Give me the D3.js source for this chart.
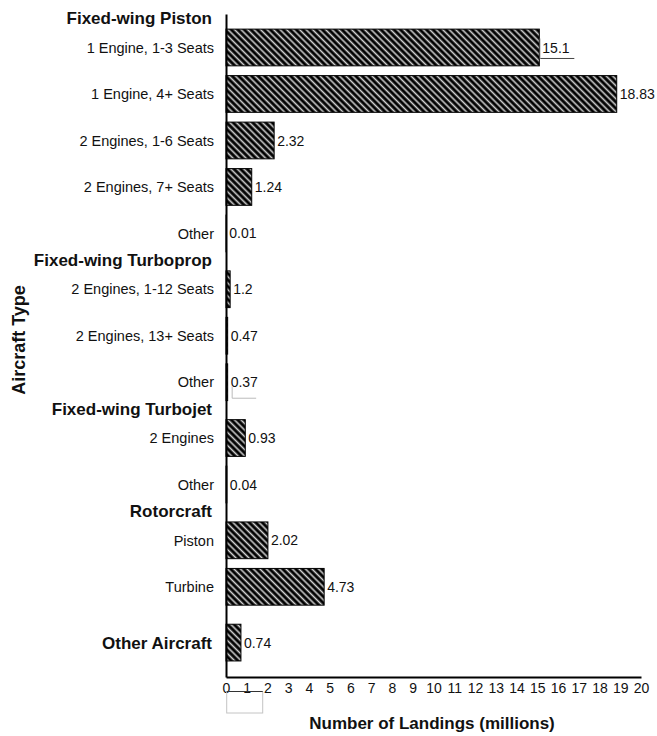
<!DOCTYPE html>
<html><head><meta charset="utf-8">
<script src="https://cdn.jsdelivr.net/npm/d3@7"></script>
<style>body{margin:0;background:#fff}svg{display:block}</style></head>
<body>
<script>
// ---- data ----
const categories = ["1 Engine, 1-3 Seats","1 Engine, 4+ Seats","2 Engines, 1-6 Seats","2 Engines, 7+ Seats","Other",
  "2 Engines, 1-12 Seats","2 Engines, 13+ Seats","Other",
  "2 Engines","Other",
  "Piston","Turbine",
  "Other Aircraft"];
const groupOf = ["Fixed-wing Piston","Fixed-wing Piston","Fixed-wing Piston","Fixed-wing Piston","Fixed-wing Piston",
  "Fixed-wing Turboprop","Fixed-wing Turboprop","Fixed-wing Turboprop",
  "Fixed-wing Turbojet","Fixed-wing Turbojet",
  "Rotorcraft","Rotorcraft",
  "Other Aircraft"];
const valueLabels = ["15.1","18.83","2.32","1.24","0.01","1.2","0.47","0.37","0.93","0.04","2.02","4.73","0.74"];
const barLengths = [15.1,18.83,2.32,1.24,0.01,0.2,0.08,0.08,0.93,0.04,2.02,4.73,0.72];
const xTicks = [0,1,2,3,4,5,6,7,8,9,10,11,12,13,14,15,16,17,18,19,20];
const xTitle = "Number of Landings (millions)";
const yTitle = "Aircraft Type";

// ---- layout ----
const W = 657, H = 736;
const svg = d3.select("body").append("svg").attr("width", W).attr("height", H);
const font = "'Liberation Sans', Arial, sans-serif";

const groups = Array.from(new Set(groupOf));
const gap = 0.2;
const slots = categories.map((c, i) => i + gap * groups.indexOf(groupOf[i]));

const x = d3.scaleLinear().domain([0, 20]).range([226, 641]);
const y = d3.scaleLinear().domain([-0.72, d3.max(slots) + 0.74]).range([14, 677]);
const unit = y(1) - y(0);
const barH = unit * 0.79;

// pattern
const defs = svg.append("defs");
const pat = defs.append("pattern").attr("id", "stripes").attr("patternUnits", "userSpaceOnUse")
  .attr("width", 4.6).attr("height", 10).attr("patternTransform", "rotate(-45)");
pat.append("rect").attr("width", 4.6).attr("height", 10).attr("fill", "#000");
pat.append("line").attr("x1", 2.3).attr("x2", 2.3).attr("y1", 0).attr("y2", 10)
  .attr("stroke", "#d2d2d2").attr("stroke-width", 1.6);

// bars
svg.append("g").selectAll("rect").data(barLengths).join("rect")
  .attr("x", x(0))
  .attr("y", (d, i) => y(slots[i]) - barH / 2)
  .attr("width", d => Math.max(0, x(d) - x(0)))
  .attr("height", barH)
  .attr("fill", "url(#stripes)")
  .attr("stroke", "#000").attr("stroke-width", 1);

// value labels
svg.append("g").selectAll("text").data(valueLabels).join("text")
  .attr("x", (d, i) => x(barLengths[i]) + 3)
  .attr("y", (d, i) => y(slots[i]))
  .attr("dy", "0.36em")
  .attr("font-family", font).attr("font-size", 14).attr("fill", "#111")
  .text(d => d);

// category labels
svg.append("g").selectAll("text").data(categories).join("text")
  .attr("x", (d, i) => groupOf[i] === d ? 212 : 214)
  .attr("y", (d, i) => y(slots[i]))
  .attr("dy", "0.36em")
  .attr("text-anchor", "end")
  .attr("font-family", font)
  .attr("font-size", (d, i) => groupOf[i] === d ? 17 : 14.5)
  .attr("font-weight", (d, i) => groupOf[i] === d ? "bold" : "normal")
  .attr("fill", "#111")
  .text(d => d);

// group headers
const headerData = groups.filter(g => !categories.includes(g)).map(g => ({
  name: g, slot: slots[groupOf.indexOf(g)]
}));
svg.append("g").selectAll("text").data(headerData).join("text")
  .attr("x", 212)
  .attr("y", d => y(d.slot) - unit * 0.63)
  .attr("dy", "0.36em")
  .attr("text-anchor", "end")
  .attr("font-family", font).attr("font-size", 17).attr("font-weight", "bold")
  .attr("fill", "#111")
  .text(d => d.name);

// axes
const xAxis = d3.axisBottom(x).tickValues(xTicks).tickSize(0).tickPadding(6).tickFormat(d3.format("d"));
const gx = svg.append("g").attr("transform", `translate(0,${y.range()[1]})`).call(xAxis);
gx.select(".domain").attr("stroke", "#000").attr("stroke-width", 2);
gx.selectAll("text").attr("font-family", font).attr("font-size", 14).attr("fill", "#111");

const yAxis = d3.axisLeft(y).tickValues([]).tickSize(0);
const gy = svg.append("g").attr("transform", `translate(${x(0)},0)`).call(yAxis);
gy.select(".domain").attr("stroke", "#000").attr("stroke-width", 2);

// stray textbox outlines from the original
const deco = svg.append("g").attr("fill", "none");
const i15 = valueLabels.indexOf("15.1");
const bx1 = x(barLengths[i15]) + 1, by1 = y(slots[i15]);
deco.append("line").attr("x1", bx1).attr("x2", bx1).attr("y1", by1 - 9).attr("y2", by1 + 11).attr("stroke", "#ccc");
deco.append("line").attr("x1", bx1).attr("x2", bx1 + 34).attr("y1", by1 + 11).attr("y2", by1 + 11).attr("stroke", "#444");
const i37 = valueLabels.indexOf("0.37");
const bx2 = x(barLengths[i37]) + 4.5, by2 = y(slots[i37]);
deco.append("line").attr("x1", bx2).attr("x2", bx2).attr("y1", by2 + 4).attr("y2", by2 + 16).attr("stroke", "#bbb");
deco.append("line").attr("x1", bx2).attr("x2", bx2 + 24).attr("y1", by2 + 16).attr("y2", by2 + 16).attr("stroke", "#bbb");
const ay = y.range()[1] + 14.5;
deco.append("rect").attr("x", x(0) + 0.7).attr("y", ay).attr("width", 36).attr("height", 21.5).attr("stroke", "#c4c4c4");
deco.append("line").attr("x1", x(0) + 0.7).attr("x2", x(0) + 36.7).attr("y1", ay).attr("y2", ay).attr("stroke", "#333");

// titles
svg.append("text").attr("x", 432).attr("y", 729).attr("text-anchor", "middle")
  .attr("font-family", font).attr("font-size", 17).attr("font-weight", "bold").attr("fill", "#111")
  .text(xTitle);
svg.append("text").attr("transform", "translate(25,340) rotate(-90)").attr("text-anchor", "middle")
  .attr("font-family", font).attr("font-size", 18).attr("font-weight", "bold").attr("fill", "#111")
  .text(yTitle);
</script>
</body></html>
